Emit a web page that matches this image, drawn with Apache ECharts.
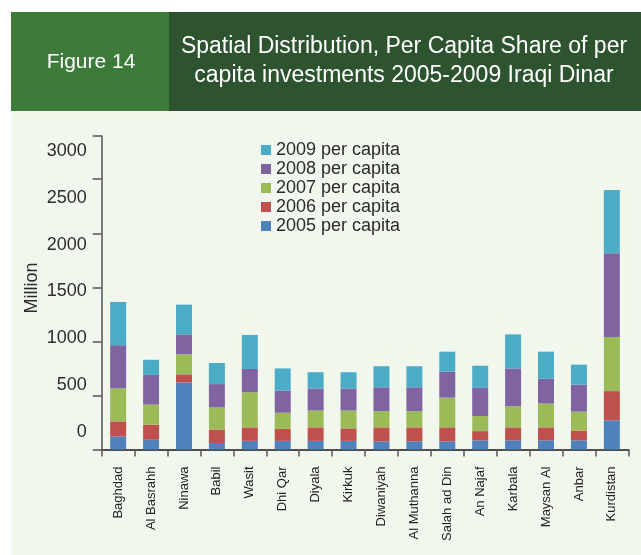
<!DOCTYPE html>
<html>
<head>
<meta charset="utf-8">
<title>Figure 14</title>
<script src="https://cdn.jsdelivr.net/npm/echarts@6/dist/echarts.min.js"></script>
<style>
  html, body { margin: 0; padding: 0; background: #ffffff; }
  #chart { width: 641px; height: 555px; }
</style>
</head>
<body>
<div id="chart"></div>
<script>
// Governorates along the x axis
var categories = ['Baghdad', 'Al Basrahh', 'Ninawa', 'Babil', 'Wasit', 'Dhi Qar', 'Diyala', 'Kirkuk',
  'Diwaniyah', 'Al Muthanna', 'Salah ad Din', 'An Najaf', 'Karbala', 'Maysan Al', 'Anbar', 'Kurdistan'];

// Per capita investment by year (million Iraqi Dinar)
var v2005 = [120, 90, 620, 60, 80, 80, 80, 80, 75, 75, 75, 85, 85, 85, 85, 270];
var v2006 = [140, 140, 75, 125, 125, 110, 125, 115, 130, 130, 130, 85, 120, 120, 90, 270];
var v2007 = [305, 185, 185, 205, 325, 150, 155, 165, 150, 150, 275, 140, 195, 220, 175, 500];
var v2008 = [400, 275, 185, 215, 215, 205, 205, 205, 220, 220, 240, 260, 350, 230, 250, 775];
var v2009 = [400, 140, 275, 195, 315, 205, 150, 150, 195, 195, 185, 205, 315, 250, 185, 585];

var seriesNames = ['2005 per capita', '2006 per capita', '2007 per capita', '2008 per capita', '2009 per capita'];
var seriesValues = [v2005, v2006, v2007, v2008, v2009];
var seriesColors = ['#4f81bd', '#c0504d', '#9bbb59', '#8064a2', '#4bacc6'];

// Tick labels printed beside the value axis
var yTickLabels = [0, 500, 1000, 1500, 2000, 2500, 3000];

var FONT = '"Liberation Sans", Arial, Helvetica, sans-serif';

var chart = echarts.init(document.getElementById('chart'), null, { renderer: 'canvas' });

var series = seriesNames.map(function (name, i) {
  return {
    name: name,
    type: 'bar',
    stack: 'total',
    xAxisIndex: 0,
    yAxisIndex: 0,
    barWidth: 16,
    itemStyle: { color: seriesColors[i] },
    emphasis: { disabled: true },
    data: seriesValues[i]
  };
});

var option = {
  animation: false,
  backgroundColor: '#ffffff',
  textStyle: { fontFamily: FONT },
  graphic: [
    // chart panel
    { type: 'rect', z: -10, silent: true, shape: { x: 11, y: 111, width: 630, height: 444 }, style: { fill: '#f2f7ee' } },
    // header boxes
    { type: 'rect', z: -10, silent: true, shape: { x: 11, y: 12, width: 158, height: 99 }, style: { fill: '#3e7a3a' } },
    { type: 'rect', z: -10, silent: true, shape: { x: 169, y: 12, width: 472, height: 99 }, style: { fill: '#2d542f' } },
    { type: 'text', silent: true, x: 91, y: 62, style: { text: 'Figure 14', fill: '#ffffff', font: '21px ' + FONT, textAlign: 'center', textVerticalAlign: 'middle' } },
    { type: 'text', silent: true, x: 404, y: 47, style: { text: 'Spatial Distribution, Per Capita Share of per', fill: '#ffffff', font: '23px ' + FONT, textAlign: 'center', textVerticalAlign: 'middle' } },
    { type: 'text', silent: true, x: 404, y: 76, style: { text: 'capita investments 2005-2009 Iraqi Dinar', fill: '#ffffff', font: '23px ' + FONT, textAlign: 'center', textVerticalAlign: 'middle' } },
    // value axis title
    { type: 'text', silent: true, x: 32, y: 288, rotation: Math.PI / 2, style: { text: 'Million', fill: '#2b2b2b', font: '18px ' + FONT, textAlign: 'center', textVerticalAlign: 'middle' } }
  ],
  legend: {
    orient: 'vertical',
    left: 256,
    top: 136,
    itemWidth: 10,
    itemHeight: 10,
    itemGap: 1,
    icon: 'rect',
    selectedMode: false,
    data: ['2009 per capita', '2008 per capita', '2007 per capita', '2006 per capita', '2005 per capita'],
    textStyle: { fontFamily: FONT, fontSize: 18, color: '#2b2b2b', lineHeight: 18, padding: [0, 0, 0, 0] }
  },
  grid: [
    { left: 101.7, right: 12.7, top: 136, bottom: 105.5, containLabel: false },
    { left: 101.7, right: 12.7, top: 151, bottom: 123, containLabel: false }
  ],
  xAxis: [
    {
      type: 'category',
      gridIndex: 0,
      data: categories,
      boundaryGap: true,
      axisLine: { show: true, lineStyle: { color: '#4d4d4d', width: 2 } },
      axisTick: { show: true, length: 7, lineStyle: { color: '#555555', width: 1.5 } },
      axisLabel: { rotate: 90, margin: 17, fontSize: 13, color: '#222222', fontFamily: FONT, interval: 0 },
      splitLine: { show: false }
    },
    { type: 'category', gridIndex: 1, show: false, data: categories }
  ],
  yAxis: [
    {
      type: 'value',
      gridIndex: 0,
      min: 0,
      max: 2900,
      interval: 500,
      axisLine: { show: true, lineStyle: { color: '#555555', width: 1.5 } },
      axisTick: { show: true, length: 9, lineStyle: { color: '#555555', width: 1.5 } },
      axisLabel: { show: false },
      splitLine: { show: false }
    },
    {
      type: 'value',
      gridIndex: 1,
      min: yTickLabels[0],
      max: yTickLabels[yTickLabels.length - 1],
      interval: yTickLabels[1] - yTickLabels[0],
      axisLine: { show: false },
      axisTick: { show: false },
      splitLine: { show: false },
      axisLabel: {
        show: true, margin: 15, fontSize: 18, color: '#2b2b2b', fontFamily: FONT,
        formatter: function (v) { return String(v); }
      }
    }
  ],
  series: series
};

chart.setOption(option);
</script>
</body>
</html>
